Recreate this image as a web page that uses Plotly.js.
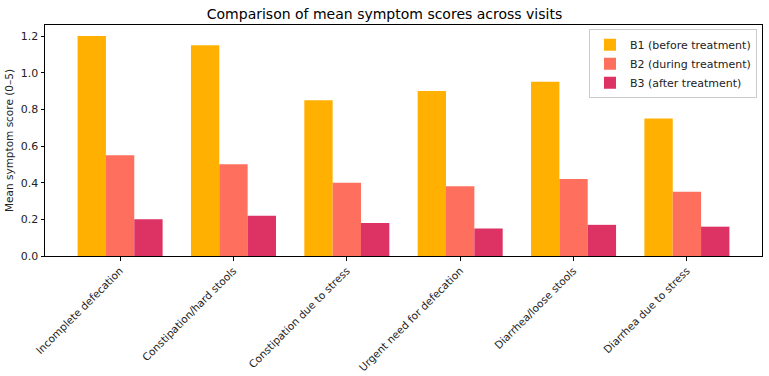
<!DOCTYPE html>
<html><head><meta charset="utf-8">
<script src="https://cdn.plot.ly/plotly-3.0.1.min.js"></script>
<style>html,body{margin:0;padding:0;background:#fff}#chart{width:769px;height:376px}</style>
</head><body><div id="chart"></div>
<script>
const categories = ["Incomplete defecation","Constipation/hard stools","Constipation due to stress","Urgent need for defecation","Diarrhea/loose stools","Diarrhea due to stress"];
const seriesNames = ["B1 (before treatment)","B2 (during treatment)","B3 (after treatment)"];
const b1 = [1.2, 1.15, 0.85, 0.9, 0.95, 0.75];
const b2 = [0.55, 0.5, 0.4, 0.38, 0.42, 0.35];
const b3 = [0.2, 0.22, 0.18, 0.15, 0.17, 0.16];
const colors = ["#FFB000", "#FE6F5E", "#DC3264"];
const yTicks = [0, 0.2, 0.4, 0.6, 0.8, 1.0, 1.2];

const font = "DejaVu Sans, sans-serif";
const data = [b1, b2, b3].map((vals, i) => ({
  type: "bar", x: categories, y: vals, name: seriesNames[i],
  marker: {color: colors[i], line: {width: 0}}
}));
const layout = {
  width: 769, height: 376,
  margin: {l: 45, r: 7, t: 25, b: 120},
  paper_bgcolor: "#fff", plot_bgcolor: "#fff",
  font: {family: font, size: 11, color: "#222"},
  title: {text: "Comparison of mean symptom scores across visits", font: {family: font, size: 14, color: "#000"}, x: 0.5, xanchor: "center", y: 0.975, yanchor: "top"},
  barmode: "group", bargap: 0.25, bargroupgap: 0,
  xaxis: {
    tickangle: -45, range: [-0.6625, 5.6625],
    showline: true, linecolor: "#000", linewidth: 1, mirror: true,
    ticks: "outside", ticklen: 3.5, tickcolor: "#000", showgrid: false,
    tickfont: {family: font, size: 10.5, color: "#222"}
  },
  yaxis: {
    range: [0, 1.26], tickvals: yTicks, tickformat: ".1f",
    showline: true, linecolor: "#000", linewidth: 1, mirror: true,
    ticks: "outside", ticklen: 3.5, tickcolor: "#000", showgrid: false, zeroline: false,
    tickfont: {family: font, size: 11, color: "#222"},
    title: {text: "Mean symptom score (0–5)", font: {family: font, size: 10.5, color: "#222"}, standoff: 5}
  },
  legend: {
    x: 0.993, xanchor: "right", y: 0.982, yanchor: "top",
    bgcolor: "rgba(255,255,255,0.8)", bordercolor: "#ccc", borderwidth: 1,
    font: {family: font, size: 11, color: "#222"}, tracegroupgap: 0
  },
  showlegend: true
};
Plotly.newPlot("chart", data, layout, {displayModeBar: false, staticPlot: true});
</script></body></html>
